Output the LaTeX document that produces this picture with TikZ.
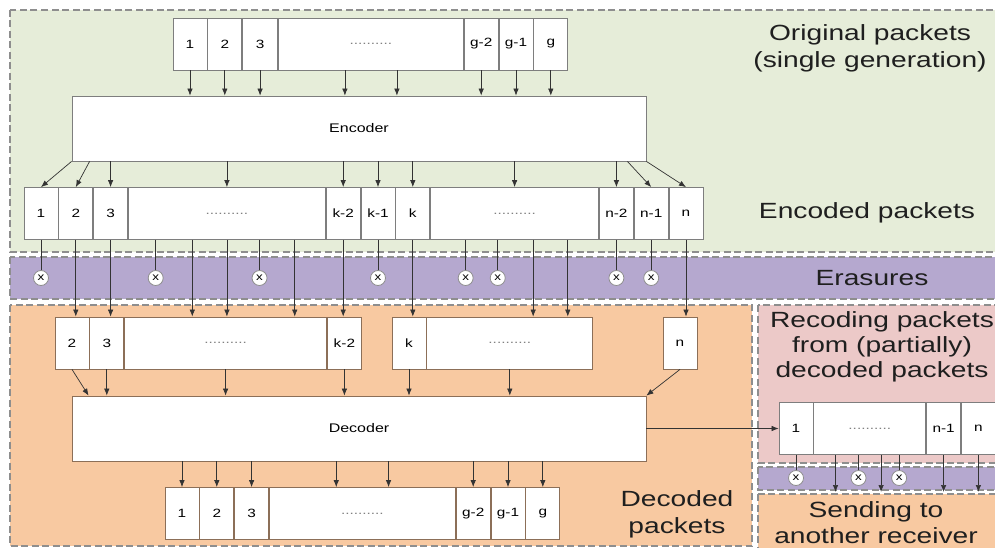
\documentclass[tikz,border=0pt]{standalone}
\usepackage{fontspec}
\setmainfont{Liberation Sans}[FakeStretch=1.28]
\usepackage{tikz}
\usetikzlibrary{arrows.meta,positioning,calc}
\definecolor{greenbg}{HTML}{E6EDD9}
\definecolor{purplebg}{HTML}{B5A8CF}
\definecolor{orangebg}{HTML}{F8C9A1}
\definecolor{pinkbg}{HTML}{ECC9C8}
\definecolor{regionline}{HTML}{8E8E8E}
\definecolor{cellline}{HTML}{7E7E7E}
\definecolor{cellbrown}{HTML}{8C6F58}
\definecolor{wire}{HTML}{333333}
\tikzset{
  region/.style={draw=regionline,line width=1.1pt,dash pattern=on 7pt off 3.5pt},
  pkt/.style={draw=cellline,fill=white,line width=0.8pt,minimum width=34pt,
    minimum height=52pt,inner sep=0pt,font=\fontsize{12}{12}\selectfont},
  dots/.style={pkt,text=gray},
  coder/.style={draw=cellline,fill=white,line width=0.8pt,minimum width=574pt,
    minimum height=65pt,inner sep=0pt,font=\fontsize{12.5}{14}\selectfont},
  onorange/.style={draw=cellbrown},
  arrow/.style={-{Latex[length=7pt,width=5.5pt]},draw=wire,line width=0.7pt},
  lost/.style={draw=wire,line width=0.7pt},
  erasure/.style={circle,draw=regionline,fill=white,line width=0.8pt,
    minimum size=15pt,inner sep=0pt,font=\fontsize{10.5}{10}\selectfont},
  biglabel/.style={align=center,font=\fontsize{22}{27}\selectfont,text=black!88}
}

\begin{document}
\begin{tikzpicture}[x=1pt,y=-1pt,node distance=0pt]
  \useasboundingbox (0,0) rectangle (995,548);
  \clip (0,0) rectangle (995,548);
  \filldraw[region,fill=greenbg] (10,10) rectangle (1005,252);
  \filldraw[region,fill=purplebg] (10,257) rectangle (1005,299);
  \filldraw[region,fill=orangebg] (10,305) rectangle (752,546);
  \filldraw[region,fill=pinkbg] (758,305) rectangle (1005,463);
  \filldraw[region,fill=purplebg] (758,467) rectangle (1005,490);
  \filldraw[region,fill=orangebg] (758,494) rectangle (1005,560);

  \node[pkt] (o1) at (190,44) {1};
  \node[pkt,right=of o1] (o2) {2};
  \node[pkt,right=of o2,minimum width=35pt] (o3) {3};
  \node[dots,right=of o3,minimum width=185pt] (odots) {..........};
  \node[pkt,right=of odots] (og2) {g-2};
  \node[pkt,right=of og2] (og1) {g-1};
  \node[pkt,right=of og1] (og) {g};

  \node[coder] (enc) at (359,128.5) {Encoder};

  \node[pkt] (e1) at (41,213.5) {1};
  \node[pkt,right=of e1] (e2) {2};
  \node[pkt,right=of e2] (e3) {3};
  \node[dots,right=of e3,minimum width=197pt] (edots) {..........};
  \node[pkt,right=of edots] (ek2) {k-2};
  \node[pkt,right=of ek2] (ek1) {k-1};
  \node[pkt,right=of ek1] (ek) {k};
  \node[dots,right=of ek,minimum width=168pt] (edots2) {..........};
  \node[pkt,right=of edots2] (en2) {n-2};
  \node[pkt,right=of en2] (en1) {n-1};
  \node[pkt,right=of en1] (en) {n};

  \node[pkt,onorange] (r2) at (72,343) {2};
  \node[pkt,onorange,right=of r2] (r3) {3};
  \node[dots,onorange,right=of r3,minimum width=202pt] (rdots) {..........};
  \node[pkt,onorange,right=of rdots] (rk2) {k-2};
  \node[pkt,onorange] (rk) at (409,343) {k};
  \node[dots,onorange,right=of rk,minimum width=166pt] (rdots2) {..........};
  \node[pkt,onorange] (rn) at (680,343) {n};

  \node[coder,onorange] (dec) at (359,428.5) {Decoder};

  \node[pkt,onorange] (d1) at (182,513.5) {1};
  \node[pkt,onorange,right=of d1] (d2) {2};
  \node[pkt,onorange,right=of d2] (d3) {3};
  \node[dots,onorange,right=of d3,minimum width=186pt] (ddots) {..........};
  \node[pkt,onorange,right=of ddots] (dg2) {g-2};
  \node[pkt,onorange,right=of dg2] (dg1) {g-1};
  \node[pkt,onorange,right=of dg1] (dg) {g};

  \node[pkt] (c1) at (796,428.5) {1};
  \node[dots,right=of c1,minimum width=112pt] (cdots) {..........};
  \node[pkt,right=of cdots] (cn1) {n-1};
  \node[pkt,right=of cn1] (cn) {n};

  \node[biglabel] (lorig) at (870,48) {Original packets\\(single generation)};
  \node[biglabel] (lenc) at (867,213) {Encoded packets};
  \node[biglabel] (lera) at (872,278) {Erasures};
  \node[biglabel] (ldec) at (677,514) {Decoded\\packets};
  \node[biglabel,font=\fontsize{22}{25}\selectfont] (lrec) at (882,347)
    {Recoding packets\\from (partially)\\decoded packets};
  \node[biglabel,font=\fontsize{22}{26}\selectfont] (lsend) at (876,523)
    {Sending to\\another receiver};

  \coordinate (oa) at ($(odots.south west)!0.36!(odots.south east)$);
  \coordinate (ob) at ($(odots.south west)!0.64!(odots.south east)$);
  \coordinate (ea) at ($(edots.south west)!0.14!(edots.south east)$);
  \coordinate (eb) at ($(edots.south west)!0.325!(edots.south east)$);
  \coordinate (ec) at ($(edots.south west)!0.665!(edots.south east)$);
  \coordinate (ed) at ($(edots.south west)!0.843!(edots.south east)$);
  \coordinate (eg) at ($(edots2.south west)!0.21!(edots2.south east)$);
  \coordinate (eh) at ($(edots2.south west)!0.40!(edots2.south east)$);
  \coordinate (ei) at ($(edots2.south west)!0.61!(edots2.south east)$);
  \coordinate (ej) at ($(edots2.south west)!0.815!(edots2.south east)$);
  \coordinate (da) at ($(ddots.north west)!0.36!(ddots.north east)$);
  \coordinate (db) at ($(ddots.north west)!0.64!(ddots.north east)$);
  \coordinate (ca) at ($(cdots.south west)!0.196!(cdots.south east)$);
  \coordinate (cb) at ($(cdots.south west)!0.40!(cdots.south east)$);
  \coordinate (cc) at ($(cdots.south west)!0.60!(cdots.south east)$);
  \coordinate (cd) at ($(cdots.south west)!0.76!(cdots.south east)$);
  \coordinate (xrow) at (0,278);
  \coordinate (yrow) at (0,478);
  \coordinate (send) at (0,492);

  \node[erasure] (x1) at (e1 |- xrow) {x};
  \node[erasure] (x2) at (ea |- xrow) {x};
  \node[erasure] (x3) at (ec |- xrow) {x};
  \node[erasure] (x4) at (ek1 |- xrow) {x};
  \node[erasure] (x5) at (eg |- xrow) {x};
  \node[erasure] (x6) at (eh |- xrow) {x};
  \node[erasure] (x7) at (en2 |- xrow) {x};
  \node[erasure] (x8) at (en1 |- xrow) {x};
  \node[erasure] (y1) at (c1 |- yrow) {x};
  \node[erasure] (y2) at (cb |- yrow) {x};
  \node[erasure] (y3) at (cd |- yrow) {x};

  \foreach \p in {o1,o2,o3,oa,ob,og2,og1,og}
    \draw[arrow] (\p |- o1.south) -- (\p |- enc.north);

  \draw[arrow] (enc.south west) -- (e1.north);
  \draw[arrow] ($(enc.south west)+(18,0)$) -- (e2.north);
  \foreach \p in {e3,edots,ek2,ek1,ek,edots2,en2}
    \draw[arrow] (\p |- enc.south) -- (\p.north);
  \draw[arrow] ($(enc.south east)+(-19,0)$) -- (en1.north);
  \draw[arrow] (enc.south east) -- (en.north);

  \foreach \p/\x in {e1/x1,ea/x2,ec/x3,ek1/x4,eg/x5,eh/x6,en2/x7,en1/x8}
    \draw[lost] (\p |- e1.south) -- (\x);
  \foreach \p in {e2,e3,eb,edots,ed,ek2,ek,ei,ej,en}
    \draw[arrow] (\p |- e1.south) -- (\p |- r2.north);

  \draw[arrow] (r2.south) -- ($(dec.north west)+(17,0)$);
  \foreach \p in {r3,rdots,rk2,rk,rdots2}
    \draw[arrow] (\p.south) -- (\p |- dec.north);
  \draw[arrow] (rn.south) -- (dec.north east);

  \foreach \p in {d1,d2,d3,da,db,dg2,dg1,dg}
    \draw[arrow] (\p |- dec.south) -- (\p |- d1.north);

  \draw[arrow] (dec.east) -- (c1.west);

  \foreach \p/\x in {c1/y1,cb/y2,cd/y3}
    \draw[lost] (\p |- c1.south) -- (\x);
  \foreach \p in {ca,cc,cn1,cn}
    \draw[arrow] (\p |- c1.south) -- (\p |- send);
\end{tikzpicture}
\end{document}
